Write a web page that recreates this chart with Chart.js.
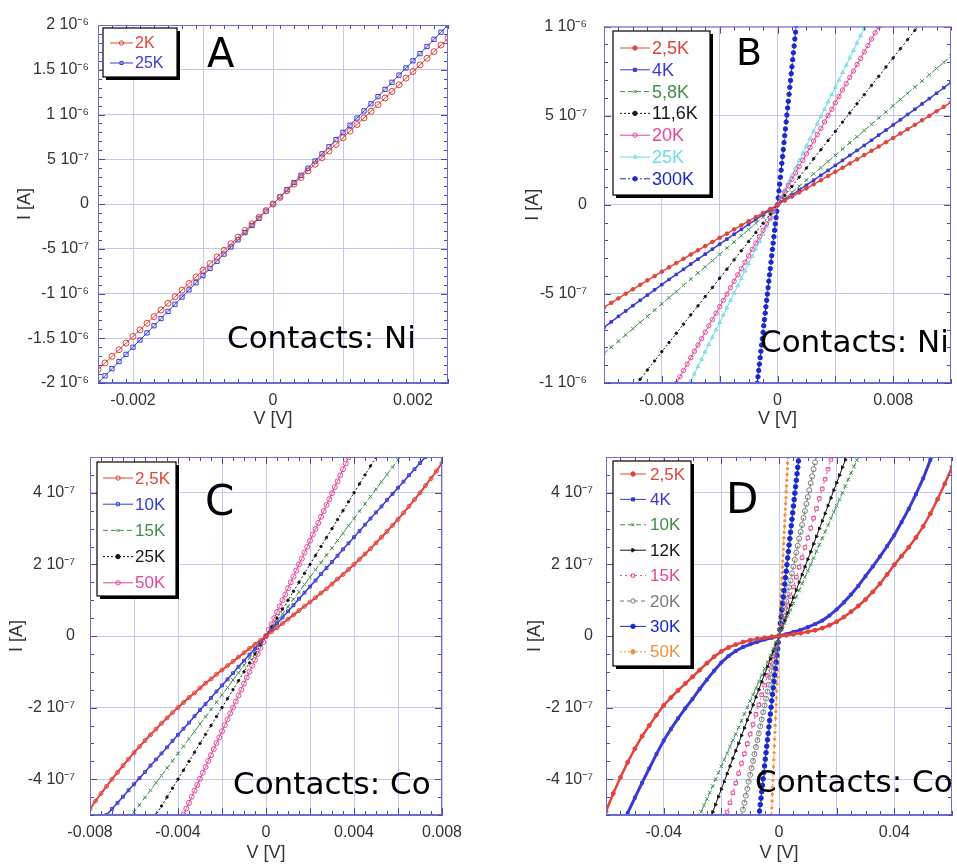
<!DOCTYPE html>
<html>
<head>
<meta charset="utf-8">
<script src="https://cdn.jsdelivr.net/npm/chart.js@4.4.1/dist/chart.umd.min.js"></script>
<style>
  body { margin: 0; background: #fff; }
  #wrap { position: relative; width: 957px; height: 866px; overflow: hidden; }
  canvas { position: absolute; }
</style>
</head>
<body>
<div id="wrap">
  <canvas id="cA" width="478" height="430" style="left:0;top:0"></canvas>
  <canvas id="cB" width="479" height="430" style="left:478px;top:0"></canvas>
  <canvas id="cC" width="478" height="436" style="left:0;top:430px"></canvas>
  <canvas id="cD" width="479" height="436" style="left:478px;top:430px"></canvas>
</div>
<script>
// V in mV, I in units of 1e-7 A

// Panel A - contacts Ni
const vA = [-2.5,-2.4,-2.3,-2.2,-2.1,-2,-1.9,-1.8,-1.7,-1.6,-1.5,-1.4,-1.3,-1.2,-1.1,-1,-0.9,-0.8,-0.7,-0.6,-0.5,-0.4,-0.3,-0.2,-0.1,0,0.1,0.2,0.3,0.4,0.5,0.6,0.7,0.8,0.9,1,1.1,1.2,1.3,1.4,1.5,1.6,1.7,1.8,1.9,2,2.1,2.2,2.3,2.4,2.5];
const iA_2K = [-18.5,-17.76,-17.02,-16.28,-15.54,-14.8,-14.06,-13.32,-12.58,-11.84,-11.1,-10.36,-9.62,-8.88,-8.14,-7.4,-6.66,-5.92,-5.18,-4.44,-3.7,-2.96,-2.22,-1.48,-0.74,0,0.74,1.48,2.22,2.96,3.7,4.44,5.18,5.92,6.66,7.4,8.14,8.88,9.62,10.36,11.1,11.84,12.58,13.32,14.06,14.8,15.54,16.28,17.02,17.76,18.5];
const iA_25K = [-20,-19.2,-18.4,-17.6,-16.8,-16,-15.2,-14.4,-13.6,-12.8,-12,-11.2,-10.4,-9.6,-8.8,-8,-7.2,-6.4,-5.6,-4.8,-4,-3.2,-2.4,-1.6,-0.8,0,0.8,1.6,2.4,3.2,4,4.8,5.6,6.4,7.2,8,8.8,9.6,10.4,11.2,12,12.8,13.6,14.4,15.2,16,16.8,17.6,18.4,19.2,20];

// Panel B - contacts Ni
const vB = [-12,-11.5,-11,-10.5,-10,-9.5,-9,-8.5,-8,-7.5,-7,-6.5,-6,-5.5,-5,-4.5,-4,-3.5,-3,-2.5,-2,-1.5,-1,-0.5,0,0.5,1,1.5,2,2.5,3,3.5,4,4.5,5,5.5,6,6.5,7,7.5,8,8.5,9,9.5,10,10.5,11,11.5,12];
const iB_2_5K = [-5.76,-5.5,-5.25,-4.99,-4.74,-4.49,-4.24,-4,-3.75,-3.51,-3.27,-3.03,-2.79,-2.55,-2.32,-2.08,-1.85,-1.62,-1.38,-1.15,-0.92,-0.69,-0.46,-0.23,0,0.23,0.46,0.69,0.92,1.15,1.38,1.62,1.85,2.08,2.32,2.55,2.79,3.03,3.27,3.51,3.75,4,4.24,4.49,4.74,4.99,5.25,5.5,5.76];
const iB_4K = [-6.88,-6.57,-6.26,-5.96,-5.66,-5.36,-5.07,-4.77,-4.48,-4.19,-3.91,-3.62,-3.33,-3.05,-2.77,-2.49,-2.21,-1.93,-1.65,-1.38,-1.1,-0.83,-0.55,-0.28,0,0.28,0.55,0.83,1.1,1.38,1.65,1.93,2.21,2.49,2.77,3.05,3.33,3.62,3.91,4.19,4.48,4.77,5.07,5.36,5.66,5.96,6.26,6.57,6.88];
const iB_5_8K = [-8.34,-7.99,-7.65,-7.3,-6.95,-6.6,-6.26,-5.91,-5.56,-5.21,-4.87,-4.52,-4.17,-3.82,-3.48,-3.13,-2.78,-2.43,-2.09,-1.74,-1.39,-1.04,-0.7,-0.35,0,0.35,0.7,1.04,1.39,1.74,2.09,2.43,2.78,3.13,3.48,3.82,4.17,4.52,4.87,5.21,5.56,5.91,6.26,6.6,6.95,7.3,7.65,7.99,8.34];
const iB_11_6K = [-12.36,-11.85,-11.33,-10.82,-10.3,-9.79,-9.27,-8.76,-8.24,-7.73,-7.21,-6.7,-6.18,-5.67,-5.15,-4.64,-4.12,-3.61,-3.09,-2.58,-2.06,-1.55,-1.03,-0.52,0,0.52,1.03,1.55,2.06,2.58,3.09,3.61,4.12,4.64,5.15,5.67,6.18,6.7,7.21,7.73,8.24,8.76,9.27,9.79,10.3,10.82,11.33,11.85,12.36];
const vB2 = [-7.5,-7.25,-7,-6.75,-6.5,-6.25,-6,-5.75,-5.5,-5.25,-5,-4.75,-4.5,-4.25,-4,-3.75,-3.5,-3.25,-3,-2.75,-2.5,-2.25,-2,-1.75,-1.5,-1.25,-1,-0.75,-0.5,-0.25,0,0.25,0.5,0.75,1,1.25,1.5,1.75,2,2.25,2.5,2.75,3,3.25,3.5,3.75,4,4.25,4.5,4.75,5,5.25,5.5,5.75,6,6.25,6.5,6.75,7,7.25,7.5];
const iB_20K = [-10.73,-10.37,-10.01,-9.65,-9.3,-8.94,-8.58,-8.22,-7.87,-7.51,-7.15,-6.79,-6.44,-6.08,-5.72,-5.36,-5.01,-4.65,-4.29,-3.93,-3.58,-3.22,-2.86,-2.5,-2.15,-1.79,-1.43,-1.07,-0.72,-0.36,0,0.36,0.72,1.07,1.43,1.79,2.15,2.5,2.86,3.22,3.58,3.93,4.29,4.65,5.01,5.36,5.72,6.08,6.44,6.79,7.15,7.51,7.87,8.22,8.58,8.94,9.3,9.65,10.01,10.37,10.73];
const iB_25K = [-12.38,-11.96,-11.55,-11.14,-10.73,-10.31,-9.9,-9.49,-9.08,-8.66,-8.25,-7.84,-7.43,-7.01,-6.6,-6.19,-5.78,-5.36,-4.95,-4.54,-4.13,-3.71,-3.3,-2.89,-2.48,-2.06,-1.65,-1.24,-0.83,-0.41,0,0.41,0.83,1.24,1.65,2.06,2.48,2.89,3.3,3.71,4.13,4.54,4.95,5.36,5.78,6.19,6.6,7.01,7.43,7.84,8.25,8.66,9.08,9.49,9.9,10.31,10.73,11.14,11.55,11.96,12.38];
const vB3 = [-1.4,-1.35,-1.3,-1.25,-1.2,-1.15,-1.1,-1.05,-1,-0.95,-0.9,-0.85,-0.8,-0.75,-0.7,-0.65,-0.6,-0.55,-0.5,-0.45,-0.4,-0.35,-0.3,-0.25,-0.2,-0.15,-0.1,-0.05,0,0.05,0.1,0.15,0.2,0.25,0.3,0.35,0.4,0.45,0.5,0.55,0.6,0.65,0.7,0.75,0.8,0.85,0.9,0.95,1,1.05,1.1,1.15,1.2,1.25,1.3,1.35,1.4];
const iB_300K = [-10.01,-9.65,-9.3,-8.94,-8.58,-8.22,-7.87,-7.51,-7.15,-6.79,-6.44,-6.08,-5.72,-5.36,-5.01,-4.65,-4.29,-3.93,-3.58,-3.22,-2.86,-2.5,-2.15,-1.79,-1.43,-1.07,-0.72,-0.36,0,0.39,0.78,1.16,1.55,1.94,2.33,2.71,3.1,3.49,3.88,4.26,4.65,5.04,5.43,5.81,6.2,6.59,6.98,7.36,7.75,8.14,8.53,8.91,9.3,9.69,10.08,10.46,10.85];

// Panel C - contacts Co
const vC = [-8,-7.75,-7.5,-7.25,-7,-6.75,-6.5,-6.25,-6,-5.75,-5.5,-5.25,-5,-4.75,-4.5,-4.25,-4,-3.75,-3.5,-3.25,-3,-2.75,-2.5,-2.25,-2,-1.75,-1.5,-1.25,-1,-0.75,-0.5,-0.25,0,0.25,0.5,0.75,1,1.25,1.5,1.75,2,2.25,2.5,2.75,3,3.25,3.5,3.75,4,4.25,4.5,4.75,5,5.25,5.5,5.75,6,6.25,6.5,6.75,7,7.25,7.5,7.75,8];
const iC_2_5K = [-4.83,-4.61,-4.4,-4.2,-4,-3.81,-3.62,-3.44,-3.26,-3.09,-2.92,-2.76,-2.6,-2.44,-2.29,-2.14,-2,-1.86,-1.72,-1.59,-1.45,-1.32,-1.2,-1.07,-0.95,-0.83,-0.71,-0.59,-0.47,-0.35,-0.23,-0.12,0,0.12,0.23,0.35,0.47,0.59,0.71,0.83,0.95,1.07,1.2,1.32,1.45,1.59,1.72,1.86,2,2.14,2.29,2.44,2.6,2.76,2.92,3.09,3.26,3.44,3.62,3.81,4,4.2,4.4,4.61,4.83];
const iC_10K = [-5.52,-5.35,-5.18,-5,-4.83,-4.66,-4.49,-4.31,-4.14,-3.97,-3.8,-3.62,-3.45,-3.28,-3.11,-2.93,-2.76,-2.59,-2.42,-2.24,-2.07,-1.9,-1.73,-1.55,-1.38,-1.21,-1.04,-0.86,-0.69,-0.52,-0.35,-0.17,0,0.17,0.35,0.52,0.69,0.86,1.04,1.21,1.38,1.55,1.73,1.9,2.07,2.24,2.42,2.59,2.76,2.93,3.11,3.28,3.45,3.62,3.8,3.97,4.14,4.31,4.49,4.66,4.83,5,5.18,5.35,5.52];
const iC_15K = [-6.56,-6.36,-6.15,-5.95,-5.74,-5.54,-5.33,-5.13,-4.92,-4.72,-4.51,-4.31,-4.1,-3.9,-3.69,-3.49,-3.28,-3.08,-2.87,-2.67,-2.46,-2.26,-2.05,-1.85,-1.64,-1.44,-1.23,-1.03,-0.82,-0.62,-0.41,-0.21,0,0.21,0.41,0.62,0.82,1.03,1.23,1.44,1.64,1.85,2.05,2.26,2.46,2.67,2.87,3.08,3.28,3.49,3.69,3.9,4.1,4.31,4.51,4.72,4.92,5.13,5.33,5.54,5.74,5.95,6.15,6.36,6.56];
const iC_25K = [-8,-7.75,-7.5,-7.25,-7,-6.75,-6.5,-6.25,-6,-5.75,-5.5,-5.25,-5,-4.75,-4.5,-4.25,-4,-3.75,-3.5,-3.25,-3,-2.75,-2.5,-2.25,-2,-1.75,-1.5,-1.25,-1,-0.75,-0.5,-0.25,0,0.25,0.5,0.75,1,1.25,1.5,1.75,2,2.25,2.5,2.75,3,3.25,3.5,3.75,4,4.25,4.5,4.75,5,5.25,5.5,5.75,6,6.25,6.5,6.75,7,7.25,7.5,7.75,8];
const vC2 = [-4,-3.875,-3.75,-3.625,-3.5,-3.375,-3.25,-3.125,-3,-2.875,-2.75,-2.625,-2.5,-2.375,-2.25,-2.125,-2,-1.875,-1.75,-1.625,-1.5,-1.375,-1.25,-1.125,-1,-0.875,-0.75,-0.625,-0.5,-0.375,-0.25,-0.125,0,0.125,0.25,0.375,0.5,0.625,0.75,0.875,1,1.125,1.25,1.375,1.5,1.625,1.75,1.875,2,2.125,2.25,2.375,2.5,2.625,2.75,2.875,3,3.125,3.25,3.375,3.5,3.625,3.75,3.875,4];
const iC_50K = [-5.32,-5.15,-4.99,-4.82,-4.66,-4.49,-4.32,-4.16,-3.99,-3.82,-3.66,-3.49,-3.33,-3.16,-2.99,-2.83,-2.66,-2.49,-2.33,-2.16,-2,-1.83,-1.66,-1.5,-1.33,-1.16,-1,-0.83,-0.67,-0.5,-0.33,-0.17,0,0.17,0.33,0.5,0.67,0.83,1,1.16,1.33,1.5,1.66,1.83,2,2.16,2.33,2.49,2.66,2.83,2.99,3.16,3.33,3.49,3.66,3.82,3.99,4.16,4.32,4.49,4.66,4.82,4.99,5.15,5.32];

// Panel D - contacts Co
const vD = [-60,-57.5,-55,-52.5,-50,-47.5,-45,-42.5,-40,-37.5,-35,-32.5,-30,-27.5,-25,-22.5,-20,-17.5,-15,-12.5,-10,-7.5,-5,-2.5,0,2.5,5,7.5,10,12.5,15,17.5,20,22.5,25,27.5,30,32.5,35,37.5,40,42.5,45,47.5,50,52.5,55,57.5,60];
const iD_2_5K = [-4.9,-4.4,-3.95,-3.53,-3.15,-2.8,-2.5,-2.21,-1.94,-1.72,-1.52,-1.33,-1.14,-0.95,-0.76,-0.58,-0.43,-0.32,-0.24,-0.17,-0.12,-0.08,-0.05,-0.02,0,0.02,0.05,0.08,0.12,0.16,0.22,0.3,0.4,0.53,0.68,0.84,1.02,1.23,1.46,1.72,1.99,2.23,2.48,2.75,3.06,3.42,3.82,4.25,4.72];
const iD_4K = [-6.5,-5.95,-5.45,-4.95,-4.52,-4.1,-3.7,-3.3,-2.92,-2.6,-2.3,-2.02,-1.76,-1.48,-1.22,-0.97,-0.74,-0.56,-0.42,-0.31,-0.23,-0.16,-0.1,-0.05,0,0.05,0.11,0.17,0.25,0.33,0.43,0.57,0.74,0.94,1.16,1.4,1.67,1.94,2.22,2.51,2.82,3.18,3.55,3.96,4.4,4.92,5.45,6,6.6];
const vD2 = [-28,-27,-26,-25,-24,-23,-22,-21,-20,-19,-18,-17,-16,-15,-14,-13,-12,-11,-10,-9,-8,-7,-6,-5,-4,-3,-2,-1,0,1,2,3,4,5,6,7,8,9,10,11,12,13,14,15,16,17,18,19,20,21,22,23,24,25,26,27,28];
const iD_10K = [-5.1,-4.91,-4.73,-4.55,-4.37,-4.19,-4,-3.82,-3.64,-3.46,-3.28,-3.09,-2.91,-2.73,-2.55,-2.37,-2.18,-2,-1.82,-1.64,-1.46,-1.27,-1.09,-0.91,-0.73,-0.55,-0.36,-0.18,0,0.18,0.36,0.55,0.73,0.91,1.09,1.27,1.46,1.64,1.82,2,2.18,2.37,2.55,2.73,2.91,3.09,3.28,3.46,3.64,3.82,4,4.19,4.37,4.55,4.73,4.91,5.1];
const iD_12K = [-5.99,-5.78,-5.56,-5.35,-5.14,-4.92,-4.71,-4.49,-4.28,-4.07,-3.85,-3.64,-3.42,-3.21,-3,-2.78,-2.57,-2.35,-2.14,-1.93,-1.71,-1.5,-1.28,-1.07,-0.86,-0.64,-0.43,-0.21,0,0.21,0.43,0.64,0.86,1.07,1.28,1.5,1.71,1.93,2.14,2.35,2.57,2.78,3,3.21,3.42,3.64,3.85,4.07,4.28,4.49,4.71,4.92,5.14,5.35,5.56,5.78,5.99];
const iD_15K = [-7.67,-7.4,-7.12,-6.85,-6.58,-6.3,-6.03,-5.75,-5.48,-5.21,-4.93,-4.66,-4.38,-4.11,-3.84,-3.56,-3.29,-3.01,-2.74,-2.47,-2.19,-1.92,-1.64,-1.37,-1.1,-0.82,-0.55,-0.27,0,0.27,0.55,0.82,1.1,1.37,1.64,1.92,2.19,2.47,2.74,3.01,3.29,3.56,3.84,4.11,4.38,4.66,4.93,5.21,5.48,5.75,6.03,6.3,6.58,6.85,7.12,7.4,7.67];
const vD3 = [-14,-13.5,-13,-12.5,-12,-11.5,-11,-10.5,-10,-9.5,-9,-8.5,-8,-7.5,-7,-6.5,-6,-5.5,-5,-4.5,-4,-3.5,-3,-2.5,-2,-1.5,-1,-0.5,0,0.5,1,1.5,2,2.5,3,3.5,4,4.5,5,5.5,6,6.5,7,7.5,8,8.5,9,9.5,10,10.5,11,11.5,12,12.5,13,13.5,14];
const iD_20K = [-5.43,-5.24,-5.04,-4.85,-4.66,-4.46,-4.27,-4.07,-3.88,-3.69,-3.49,-3.3,-3.1,-2.91,-2.72,-2.52,-2.33,-2.13,-1.94,-1.75,-1.55,-1.36,-1.16,-0.97,-0.78,-0.58,-0.39,-0.19,0,0.19,0.39,0.58,0.78,0.97,1.16,1.36,1.55,1.75,1.94,2.13,2.33,2.52,2.72,2.91,3.1,3.3,3.49,3.69,3.88,4.07,4.27,4.46,4.66,4.85,5.04,5.24,5.43];
const vD4 = [-7,-6.75,-6.5,-6.25,-6,-5.75,-5.5,-5.25,-5,-4.75,-4.5,-4.25,-4,-3.75,-3.5,-3.25,-3,-2.75,-2.5,-2.25,-2,-1.75,-1.5,-1.25,-1,-0.75,-0.5,-0.25,0,0.25,0.5,0.75,1,1.25,1.5,1.75,2,2.25,2.5,2.75,3,3.25,3.5,3.75,4,4.25,4.5,4.75,5,5.25,5.5,5.75,6,6.25,6.5,6.75,7];
const iD_30K = [-5.08,-4.89,-4.71,-4.53,-4.35,-4.17,-3.99,-3.81,-3.63,-3.44,-3.26,-3.08,-2.9,-2.72,-2.54,-2.36,-2.18,-1.99,-1.81,-1.63,-1.45,-1.27,-1.09,-0.91,-0.73,-0.54,-0.36,-0.18,0,0.18,0.36,0.54,0.73,0.91,1.09,1.27,1.45,1.63,1.81,1.99,2.18,2.36,2.54,2.72,2.9,3.08,3.26,3.44,3.63,3.81,3.99,4.17,4.35,4.53,4.71,4.89,5.08];
const vD5 = [-2.7,-2.6,-2.5,-2.4,-2.3,-2.2,-2.1,-2,-1.9,-1.8,-1.7,-1.6,-1.5,-1.4,-1.3,-1.2,-1.1,-1,-0.9,-0.8,-0.7,-0.6,-0.5,-0.4,-0.3,-0.2,-0.1,0,0.1,0.2,0.3,0.4,0.5,0.6,0.7,0.8,0.9,1,1.1,1.2,1.3,1.4,1.5,1.6,1.7,1.8,1.9,2,2.1,2.2,2.3,2.4,2.5,2.6,2.7,2.8,2.9,3,3.1,3.2];
const iD_50K = [-5.18,-4.99,-4.8,-4.61,-4.42,-4.22,-4.03,-3.84,-3.65,-3.46,-3.26,-3.07,-2.88,-2.69,-2.5,-2.3,-2.11,-1.92,-1.73,-1.54,-1.34,-1.15,-0.96,-0.77,-0.58,-0.38,-0.19,0,0.16,0.32,0.48,0.64,0.81,0.97,1.13,1.29,1.45,1.61,1.77,1.93,2.09,2.25,2.42,2.58,2.74,2.9,3.06,3.22,3.38,3.54,3.7,3.86,4.03,4.19,4.35,4.51,4.67,4.83,4.99,5.15];

// Ticks (grid lines and labelled values)
const xGridA = [-2, -1, 0, 1, 2], xLabA = [-2, 0, 2];
const yGridA = [-20, -15, -10, -5, 0, 5, 10, 15, 20];
const xGridB = [-8, -4, 0, 4, 8], xLabB = [-8, 0, 8];
const yGridB = [-10, -5, 0, 5, 10];
const xGridC = [-8, -6, -4, -2, 0, 2, 4, 6, 8], xLabC = [-8, -4, 0, 4, 8];
const yGridC = [-4, -2, 0, 2, 4];
const xGridD = [-40, -20, 0, 20, 40], xLabD = [-40, 0, 40];
const yGridD = [-4, -2, 0, 2, 4];

const pts = (v, i) => v.map((x, k) => ({ x: x, y: i[k] }));

const SUP = { '-': '\u207B', '0': '\u2070', '1': '\u00B9', '2': '\u00B2', '3': '\u00B3', '4': '\u2074', '5': '\u2075', '6': '\u2076', '7': '\u2077', '8': '\u2078', '9': '\u2079' };
function fmtAmp(v) {
  if (Math.abs(v) < 1e-9) return '0';
  let m = v, e = -7;
  while (Math.abs(m) >= 10) { m /= 10; e += 1; }
  m = Math.round(m * 10) / 10;
  return m + ' 10' + String(e).split('').map(c => SUP[c]).join('');
}
const fmtVolt = v => Math.abs(v) < 1e-9 ? '0' : String(+(v / 1000).toFixed(4));
const has = (arr, v) => arr.some(a => Math.abs(a - v) < 1e-6);

const FONT = "'Liberation Sans', Arial, sans-serif";

// frame, minor ticks, legend box, panel letter and note
const panelDeco = {
  id: 'panelDeco',
  afterDatasetsDraw(chart, args, o) {
    const { ctx, chartArea: a } = chart;
    const xs = chart.scales.x, ys = chart.scales.y;
    ctx.save();
    ctx.strokeStyle = '#4848b4';
    ctx.lineWidth = 1;
    ctx.beginPath();
    const nx = Math.round((xs.max - xs.min) / o.xMinor);
    for (let k = 0; k <= nx; k++) {
      const v = xs.min + k * o.xMinor;
      const px = Math.round(xs.getPixelForValue(v)) + 0.5;
      const len = has(o.xGrid, v) ? 7 : 4;
      ctx.moveTo(px, a.top); ctx.lineTo(px, a.top + len);
      ctx.moveTo(px, a.bottom); ctx.lineTo(px, a.bottom - len);
    }
    const ny = Math.round((ys.max - ys.min) / o.yMinor);
    for (let k = 0; k <= ny; k++) {
      const v = ys.min + k * o.yMinor;
      const py = Math.round(ys.getPixelForValue(v)) + 0.5;
      const len = has(o.yGrid, v) ? 7 : 4;
      ctx.moveTo(a.left, py); ctx.lineTo(a.left + len, py);
      ctx.moveTo(a.right, py); ctx.lineTo(a.right - len, py);
    }
    ctx.stroke();
    ctx.strokeStyle = '#6c6cd4';
    ctx.strokeRect(a.left + 0.5, a.top + 0.5, a.right - a.left - 1, a.bottom - a.top - 1);
    ctx.restore();
  },
  afterDraw(chart, args, o) {
    const ctx = chart.ctx;
    const L = o.legend;
    ctx.save();
    // legend box with shadow
    ctx.fillStyle = '#000';
    ctx.fillRect(L.x + 3, L.y + 3, L.w, L.h);
    ctx.fillStyle = '#fff';
    ctx.fillRect(L.x, L.y, L.w, L.h);
    ctx.strokeStyle = '#000';
    ctx.lineWidth = 1.2;
    ctx.strokeRect(L.x, L.y, L.w, L.h);
    chart.data.datasets.forEach((ds, k) => {
      const yy = L.row0 + k * L.gap;
      ctx.strokeStyle = ds.borderColor;
      ctx.lineWidth = 1;
      ctx.setLineDash(ds.borderDash || []);
      ctx.beginPath();
      ctx.moveTo(L.x0, yy); ctx.lineTo(L.x1, yy);
      ctx.stroke();
      ctx.setLineDash([]);
      ctx.fillStyle = ds.pointBackgroundColor;
      ctx.strokeStyle = ds.borderColor;
      Chart.helpers.drawPoint(ctx, { pointStyle: ds.pointStyle, radius: 2.2, borderWidth: 1, rotation: ds.pointRotation || 0 }, (L.x0 + L.x1) / 2, yy);
      ctx.fillStyle = ds.labelColor || ds.borderColor;
      ctx.font = L.font + 'px ' + FONT;
      ctx.textBaseline = 'middle';
      ctx.textAlign = 'left';
      ctx.fillText(ds.label, L.tx, yy + 1);
    });
    // panel letter and contacts note
    ctx.fillStyle = '#000';
    ctx.textBaseline = 'alphabetic';
    ctx.font = o.letter.size + "px 'DejaVu Sans', sans-serif";
    ctx.fillText(o.letter.text, o.letter.x, o.letter.y);
    ctx.font = "31px 'DejaVu Sans', sans-serif";
    ctx.fillText(o.note.text, o.note.x, o.note.y);
    ctx.restore();
  }
};

function series(label, v, i, color, st) {
  return {
    label: label,
    data: pts(v, i),
    showLine: true,
    borderColor: color,
    borderWidth: st.bw || 1,
    borderDash: st.dash || [],
    pointStyle: st.ps || 'circle',
    pointRadius: st.r || 2,
    pointRotation: st.rot || 0,
    pointBorderWidth: 1,
    pointBorderColor: color,
    pointBackgroundColor: st.open ? 'rgba(255,255,255,0)' : color,
    labelColor: st.text,
    clip: 0
  };
}

function makePanel(id, p) {
  new Chart(document.getElementById(id), {
    type: 'scatter',
    data: { datasets: p.datasets },
    plugins: [panelDeco],
    options: {
      responsive: false,
      animation: false,
      devicePixelRatio: 1,
      layout: { padding: { top: p.padTop, right: p.padRight, left: 0, bottom: 0 } },
      plugins: {
        legend: { display: false },
        tooltip: { enabled: false },
        panelDeco: { xMinor: p.xMinor, yMinor: p.yMinor, xGrid: p.xGrid, yGrid: p.yGrid, legend: p.legend, letter: p.letter, note: p.note }
      },
      scales: {
        x: {
          type: 'linear', min: p.xMin, max: p.xMax,
          afterFit: s => { s.height = p.xH; },
          afterBuildTicks: s => { s.ticks = p.xGrid.map(v => ({ value: v })); },
          grid: { color: '#c6c6ee', drawTicks: false },
          border: { color: '#6c6cd4' },
          ticks: {
            autoSkip: false, maxRotation: 0, padding: 8, color: '#333',
            font: { family: FONT, size: 16 },
            callback: v => has(p.xLab, v) ? fmtVolt(v) : ''
          },
          title: { display: true, text: 'V [V]', color: '#333', font: { family: FONT, size: 18 }, padding: { top: 0, bottom: p.xTitlePad } }
        },
        y: {
          type: 'linear', min: p.yMin, max: p.yMax,
          afterFit: s => { s.width = p.left; },
          afterBuildTicks: s => { s.ticks = p.yGrid.map(v => ({ value: v })); },
          grid: { color: '#c6c6ee', drawTicks: false },
          border: { color: '#6c6cd4' },
          ticks: {
            autoSkip: false, padding: p.yTickPad, color: '#333',
            font: { family: FONT, size: 16 },
            callback: v => fmtAmp(v)
          },
          title: { display: true, text: 'I [A]', color: '#333', font: { family: FONT, size: 18 }, padding: { top: p.yTitlePad, bottom: 0 } }
        }
      }
    }
  });
}

const RED = '#e0443a', BLUE = '#3a3ad2', GREEN = '#3f8f4c', BLACK = '#151515',
      PINK = '#e2489a', CYAN = '#6ddbe8', NAVY = '#1a28cc', GRAY = '#7a7a7a', ORANGE = '#f0923c';

makePanel('cA', {
  padTop: 25, padRight: 30, left: 98, xH: 47,
  xMin: -2.5, xMax: 2.5, yMin: -20, yMax: 20,
  xGrid: xGridA, xLab: xLabA, yGrid: yGridA, xMinor: 0.2, yMinor: 1,
  yTickPad: 9, yTitlePad: 14, xTitlePad: 0,
  legend: { x: 103, y: 28, w: 74, h: 49, row0: 43, gap: 20, x0: 110, x1: 133, tx: 135, font: 16 },
  letter: { text: 'A', x: 207, y: 67, size: 40 },
  note: { text: 'Contacts: Ni', x: 227, y: 348 },
  datasets: [
    series('2K', vA, iA_2K, RED, { ps: 'circle', r: 3, open: true }),
    series('25K', vA, iA_25K, BLUE, { ps: 'rect', r: 3, open: true })
  ]
});

makePanel('cB', {
  padTop: 25, padRight: 6, left: 126, xH: 47,
  xMin: -12, xMax: 12, yMin: -10, yMax: 10,
  xGrid: xGridB, xLab: xLabB, yGrid: yGridB, xMinor: 1, yMinor: 1,
  yTickPad: 17, yTitlePad: 44, xTitlePad: 0,
  legend: { x: 135, y: 31, w: 97, h: 164, row0: 48, gap: 21.8, x0: 142, x1: 172, tx: 174, font: 18 },
  letter: { text: 'B', x: 258, y: 65, size: 38 },
  note: { text: 'Contacts: Ni', x: 282, y: 352 },
  datasets: [
    series('2,5K', vB, iB_2_5K, RED, { ps: 'circle', r: 1.8, bw: 1.5 }),
    series('4K', vB, iB_4K, BLUE, { ps: 'rect', r: 1.8, bw: 1.5 }),
    series('5,8K', vB, iB_5_8K, GREEN, { ps: 'crossRot', r: 2.5, dash: [5, 3] }),
    series('11,6K', vB, iB_11_6K, BLACK, { ps: 'circle', r: 1.2, dash: [2, 2] }),
    series('20K', vB2, iB_20K, PINK, { ps: 'circle', r: 2.2, open: true }),
    series('25K', vB2, iB_25K, CYAN, { ps: 'triangle', r: 2.2, open: true }),
    series('300K', vB3, iB_300K, NAVY, { ps: 'circle', r: 2.2, dash: [6, 2, 2, 2] })
  ]
});

makePanel('cC', {
  padTop: 27, padRight: 36, left: 90, xH: 51,
  xMin: -8, xMax: 8, yMin: -5, yMax: 5,
  xGrid: xGridC, xLab: xLabC, yGrid: yGridC, xMinor: 0.5, yMinor: 0.5,
  yTickPad: 15, yTitlePad: 6, xTitlePad: 2,
  legend: { x: 97, y: 32, w: 79, h: 134, row0: 48, gap: 26.2, x0: 103, x1: 133, tx: 135, font: 17 },
  letter: { text: 'C', x: 205, y: 85, size: 42 },
  note: { text: 'Contacts: Co', x: 233, y: 364 },
  datasets: [
    series('2,5K', vC, iC_2_5K, RED, { ps: 'circle', r: 2, bw: 2, open: true }),
    series('10K', vC, iC_10K, BLUE, { ps: 'rect', r: 2, bw: 1.5, open: true }),
    series('15K', vC, iC_15K, GREEN, { ps: 'crossRot', r: 2.5, dash: [5, 3] }),
    series('25K', vC, iC_25K, BLACK, { ps: 'circle', r: 1.2, dash: [2, 2] }),
    series('50K', vC2, iC_50K, PINK, { ps: 'circle', r: 2.5, open: true })
  ]
});

makePanel('cD', {
  padTop: 27, padRight: 0, left: 128, xH: 51,
  xMin: -60, xMax: 60, yMin: -5, yMax: 5,
  xGrid: xGridD, xLab: xLabD, yGrid: yGridD, xMinor: 5, yMinor: 0.5,
  yTickPad: 13, yTitlePad: 46, xTitlePad: 2,
  legend: { x: 135, y: 31, w: 78, h: 205, row0: 44, gap: 25.4, x0: 142, x1: 168, tx: 172, font: 17 },
  letter: { text: 'D', x: 248, y: 83, size: 42 },
  note: { text: 'Contacts: Co', x: 277, y: 362 },
  datasets: [
    series('2,5K', vD, iD_2_5K, RED, { ps: 'circle', r: 2, bw: 2.5 }),
    series('4K', vD, iD_4K, BLUE, { ps: 'rect', r: 2, bw: 3 }),
    series('10K', vD2, iD_10K, GREEN, { ps: 'crossRot', r: 2.5, dash: [5, 3] }),
    series('12K', vD2, iD_12K, BLACK, { ps: 'triangle', r: 1.8, rot: 90 }),
    series('15K', vD2, iD_15K, PINK, { ps: 'rect', r: 2.5, open: true, dash: [2, 3] }),
    series('20K', vD3, iD_20K, GRAY, { ps: 'circle', r: 2.5, open: true, dash: [4, 3] }),
    series('30K', vD4, iD_30K, NAVY, { ps: 'circle', r: 2.3 }),
    series('50K', vD5, iD_50K, ORANGE, { ps: 'circle', r: 1.2, dash: [2, 2] })
  ]
});
</script>
</body>
</html>
